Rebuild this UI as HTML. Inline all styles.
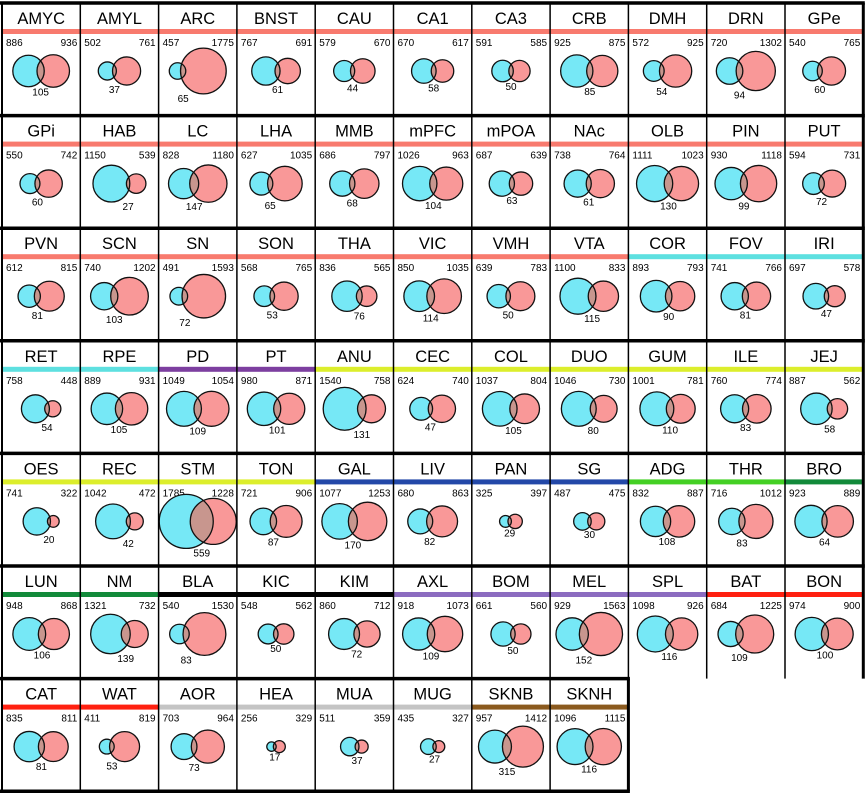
<!DOCTYPE html>
<html><head><meta charset="utf-8"><style>
html,body{margin:0;padding:0;background:#fff;}
svg{display:block;}
text{font-family:"Liberation Sans",Arial,sans-serif;}
</style></head><body>
<svg id="s" width="865" height="796" viewBox="0 0 865 796" xmlns="http://www.w3.org/2000/svg"></svg>
<script>
const S='#f87a6e',C='#5ee0e0',P='#7d3fa0',Y='#dcee2c',B='#2348a8',G='#44d024',DG='#128a3a',K='#000',L='#8c6cc0',R='#ff2010',GR='#c4c4c4',BR='#8b5a1e';
const rows=[
[['AMYC',886,936,105,S],['AMYL',502,761,37,S],['ARC',457,1775,65,S],['BNST',767,691,61,S],['CAU',579,670,44,S],['CA1',670,617,58,S],['CA3',591,585,50,S],['CRB',925,875,85,S],['DMH',572,925,54,S],['DRN',720,1302,94,S],['GPe',540,765,60,S]],
[['GPi',550,742,60,S],['HAB',1150,539,27,S],['LC',828,1180,147,S],['LHA',627,1035,65,S],['MMB',686,797,68,S],['mPFC',1026,963,104,S],['mPOA',687,639,63,S],['NAc',738,764,61,S],['OLB',1111,1023,130,S],['PIN',930,1118,99,S],['PUT',594,731,72,S]],
[['PVN',612,815,81,S],['SCN',740,1202,103,S],['SN',491,1593,72,S],['SON',568,765,53,S],['THA',836,565,76,S],['VIC',850,1035,114,S],['VMH',639,783,50,S],['VTA',1100,833,115,S],['COR',893,793,90,C],['FOV',741,766,81,C],['IRI',697,578,47,C]],
[['RET',758,448,54,C],['RPE',889,931,105,C],['PD',1049,1054,109,P],['PT',980,871,101,P],['ANU',1540,758,131,Y],['CEC',624,740,47,Y],['COL',1037,804,105,Y],['DUO',1046,730,80,Y],['GUM',1001,781,110,Y],['ILE',760,774,83,Y],['JEJ',887,562,58,Y]],
[['OES',741,322,20,Y],['REC',1042,472,42,Y],['STM',1785,1228,559,Y],['TON',721,906,87,Y],['GAL',1077,1253,170,B],['LIV',680,863,82,B],['PAN',325,397,29,B],['SG',487,475,30,B],['ADG',832,887,108,G],['THR',716,1012,83,G],['BRO',923,889,64,DG]],
[['LUN',948,868,106,DG],['NM',1321,732,139,DG],['BLA',540,1530,83,K],['KIC',548,562,50,K],['KIM',860,712,72,K],['AXL',918,1073,109,L],['BOM',661,560,50,L],['MEL',929,1563,152,L],['SPL',1098,926,116,L],['BAT',684,1225,109,R],['BON',974,900,100,R]],
[['CAT',835,811,81,R],['WAT',411,819,53,R],['AOR',703,964,73,GR],['HEA',256,329,17,GR],['MUA',511,359,37,GR],['MUG',435,327,27,GR],['SKNB',957,1412,315,BR],['SKNH',1096,1115,116,BR]]
];
const tbl=[[0,0],[250,4.6],[500,9],[800,14.8],[1100,18],[1500,21.2],[1800,23]];
function rad(n){for(let i=1;i<tbl.length;i++){if(n<=tbl[i][0]){const [a,ra]=tbl[i-1],[b,rb]=tbl[i];return ra+(rb-ra)*(n-a)/(b-a);}}return 23;}
const cw=78.3,x0=2,rh=112.6,y0=3;
let h='<defs>';let body='';let id=0;
rows.forEach((row,ri)=>{
 const top=y0+ri*rh;
 row.forEach((c,ci)=>{
  const [nm,a,b,n,col]=c;
  const L0=x0+ci*cw,R0=L0+cw,cx=L0+cw/2;
  body+=`<rect x="${L0}" y="${top+26}" width="${cw}" height="5" fill="${col}"/>`;
  body+=`<text x="${cx}" y="${top+21}" font-size="16.5" text-anchor="middle">${nm}</text>`;
  body+=`<text x="${L0+4}" y="${top+43}" font-size="10">${a}</text>`;
  body+=`<text x="${R0-3}" y="${top+43}" font-size="10" text-anchor="end">${b}</text>`;
  let r1=rad(a),r2=rad(b),ov=Math.min(2+0.05*n,9);
  if(nm==='STM'){r1=27;r2=23;ov=23;}
  const d=r1+r2-ov;
  const span=r1+d+r2;
  const c1=cx-span/2+r1,c2=c1+d,cy=top+68;
  id++;
  h+=`<clipPath id="c${id}"><circle cx="${c1}" cy="${cy}" r="${r1}"/></clipPath>`;
  body+=`<circle cx="${c1}" cy="${cy}" r="${r1}" fill="#76e8f6"/>`;
  body+=`<circle cx="${c2}" cy="${cy}" r="${r2}" fill="#f99898"/>`;
  body+=`<circle cx="${c2}" cy="${cy}" r="${r2}" fill="#c8968e" clip-path="url(#c${id})"/>`;
  body+=`<circle cx="${c1}" cy="${cy}" r="${r1}" fill="none" stroke="#111" stroke-width="1.3"/>`;
  body+=`<circle cx="${c2}" cy="${cy}" r="${r2}" fill="none" stroke="#111" stroke-width="1.3"/>`;
  const lx=(c1+r1+c2-r2)/2;
  body+=`<text x="${lx}" y="${cy+Math.max(r1,r2)+8}" font-size="10" text-anchor="middle">${n}</text>`;
  body+=`<line x1="${L0}" y1="${top}" x2="${L0}" y2="${top+rh}" stroke="#000" stroke-width="${ci==0?2:1.5}"/>`;
 });
 const w=row.length*cw;
 body+=`<line x1="${x0+w}" y1="${top}" x2="${x0+w}" y2="${top+rh}" stroke="#000" stroke-width="3"/>`;
 body+=`<line x1="0" y1="${top}" x2="${x0+w+1.5}" y2="${top}" stroke="#000" stroke-width="3.5"/>`;
 if(ri==rows.length-1) body+=`<line x1="0" y1="${top+rh}" x2="${x0+w+1.5}" y2="${top+rh}" stroke="#000" stroke-width="3.5"/>`;
});
h+='</defs>';
document.getElementById('s').innerHTML=h+body;
</script>
</body></html>
